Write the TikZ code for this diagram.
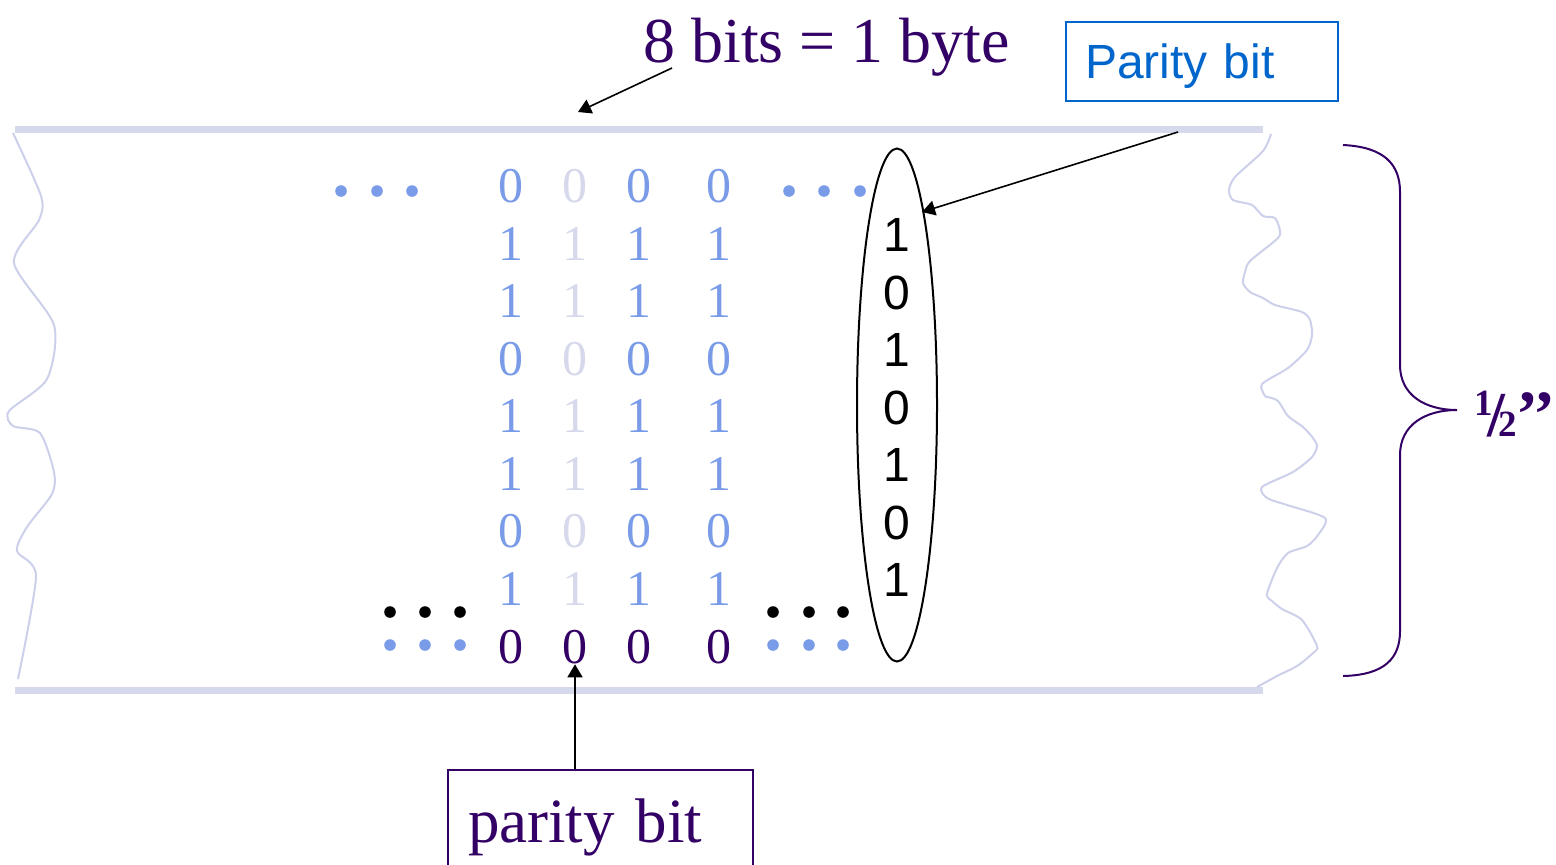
\documentclass[tikz,border=0pt]{standalone}
\usepackage{fontspec}
\setmainfont{Liberation Serif}
\setsansfont{Liberation Sans}
\usetikzlibrary{arrows.meta,shapes.geometric,calc}
\definecolor{tape}{RGB}{214,216,236}
\definecolor{edge}{RGB}{204,208,234}
\definecolor{bitblue}{RGB}{122,156,232}
\definecolor{bitpale}{RGB}{214,216,236}
\definecolor{deep}{RGB}{51,0,102}
\definecolor{boxblue}{RGB}{0,102,204}
\begin{document}
\begin{tikzpicture}[x=0.5pt,y=-0.5pt,
  bit/.style={font=\fontsize{25}{25}\selectfont, inner sep=0pt},
  pbit/.style={font=\sffamily\fontsize{24}{24}\selectfont, inner sep=0pt},
  dot/.style={radius=2.9pt},
  tapeline/.style={tape, line width=3.5pt},
  tear/.style={edge, line width=1pt, line join=round},
  conn/.style={-{Triangle[length=6.5pt,width=7.5pt]}, line width=0.8pt, black}]
\useasboundingbox (0,0) rectangle (1556,864);
\clip (0,0) rectangle (1556,864);

% tape edges
\draw[tapeline] (15,129) -- (1263,129);
\draw[tapeline] (15,690) -- (1263,690);

% torn ends of the tape
\draw[tear] plot[smooth, tension=0.45] coordinates {
  (13,133) (41,196) (39,220) (14,263) (54,325) (47,379) (9,411) (13,426)
  (40,433) (54,472) (52,494) (27,527) (17,551) (36,576) (18,679)};
\draw[tear] plot[smooth, tension=0.45] coordinates {
  (1271,134) (1263,151) (1235,177) (1229,190) (1233,200) (1252,205)
  (1263,216) (1275,218) (1280,231) (1277,239) (1250,261) (1245,272)
  (1243,283) (1250,292) (1263,298) (1275,305) (1302,312) (1310,320)
  (1312,335) (1307,350) (1288,368) (1262,384) (1265,396) (1268,397)
  (1278,401) (1288,416) (1303,427) (1313,438) (1317,446) (1312,457)
  (1293,472) (1262,487) (1267,498) (1287,505) (1325,518) (1318,535)
  (1307,546) (1288,553) (1277,568) (1267,594) (1272,601) (1282,609)
  (1302,620) (1317,646) (1313,653) (1297,666) (1277,676) (1257,687)};

% bit tracks
\foreach \v [count=\r] in {0,1,1,0,1,1,0,1} {
  \foreach \cx/\cc [count=\c] in {511/bitblue,575/bitpale,639/bitblue,719/bitblue} {
    \pgfmathsetmacro\yy{186+57.6*(\r-1)}
    \node[bit, text=\cc] (b\r\c) at (\cx,\yy) {\v};
  }
}
\foreach \cx [count=\c] in {511,575,639,719}
  \node[bit, text=deep] (z\c) at (\cx,647) {0};

% continuation dots
\foreach \cx in {341,377,412,789,824,860}
  \fill[bitblue] (\cx,191) circle[dot];
\foreach \cx in {390,425,460,773,809,843} {
  \fill[black] (\cx,612) circle[dot];
  \fill[bitblue] (\cx,645) circle[dot];
}

% one frame across the tracks
\node[draw, ellipse, line width=1pt, minimum width=40pt, minimum height=256.5pt,
      inner sep=0pt] (frame) at (897,405) {};
\foreach \v [count=\i] in {1,0,1,0,1,0,1}
  \node[pbit] (f\i) at (897,{235+57.5*(\i-1)}) {\v};

% width brace
\draw[deep, line width=1pt] (1343,145) .. controls (1385,147) and (1400,165) .. (1400,192)
  -- (1400,365) .. controls (1400,395) and (1425,410) .. (1457,410)
  .. controls (1425,410) and (1400,425) .. (1400,455)
  -- (1400,631) .. controls (1400,658) and (1385,675) .. (1343,676);
\node[font=\bfseries, text=deep, anchor=base west, inner sep=0pt] (half) at (1474,436)
  {{\fontsize{18.5}{18.5}\selectfont\raisebox{10.5pt}{1}}\kern-2.5pt{\fontsize{32}{32}\selectfont /}\kern-3.5pt{\fontsize{18.5}{18.5}\selectfont 2}\kern-0.3pt{\fontsize{33}{33}\selectfont ’’}};

% labels
\node[font=\fontsize{32}{32}\selectfont, text=deep, anchor=base west, inner sep=0pt]
  (title) at (643,62) {8 bits = 1 byte};
\node[draw=boxblue, line width=1pt, anchor=north west, minimum width=136pt,
      minimum height=39.5pt, inner xsep=9.5pt, text width=117pt, align=left,
      text depth=0pt, font=\sffamily\fontsize{24}{24}\selectfont, text=boxblue]
  (ptag) at (1065,21) {Parity bit};
\node[draw=deep, line width=1pt, anchor=north west, minimum width=152.5pt,
      minimum height=51pt, inner xsep=10pt, text width=132.5pt, align=left,
      text depth=0pt, font=\fontsize{31.5}{31.5}\selectfont, text=deep]
  (ltag) at (447,769) {parity bit};

% pointers
\coordinate (titlefoot) at (672,68);
\coordinate (tapetop) at (578,112);
\coordinate (tagfoot) at (1178,132);
\coordinate (framehit) at (922,212);
\draw[conn] (titlefoot) -- (tapetop);
\draw[conn] (tagfoot) -- (framehit);
\draw[conn] (ltag.north -| z2.south) -- (z2.south);
\end{tikzpicture}
\end{document}
